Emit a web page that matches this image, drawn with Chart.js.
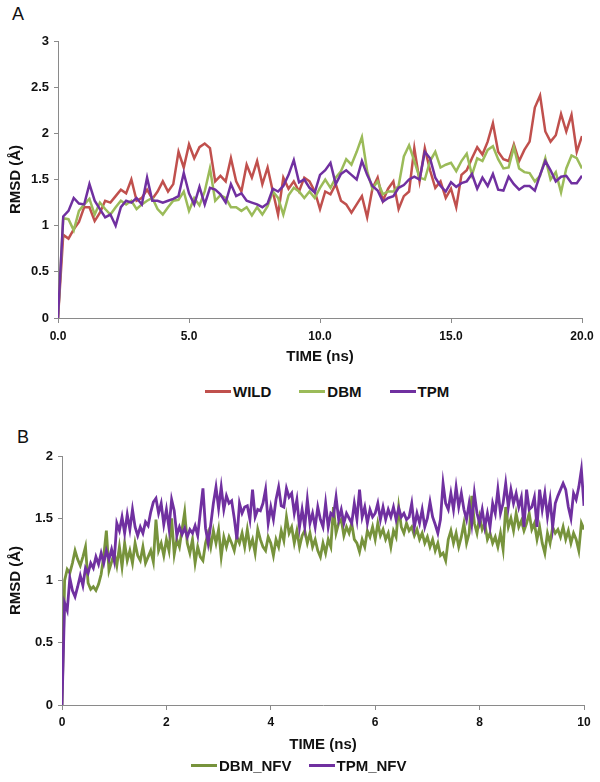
<!DOCTYPE html>
<html>
<head>
<meta charset="utf-8">
<script src="https://cdn.jsdelivr.net/npm/chart.js@4.4.1/dist/chart.umd.min.js"></script>
<style>
  body { margin: 0; background: #fff; font-family: "Liberation Sans", Arial, sans-serif; }
  #page { position: relative; width: 600px; height: 782px; overflow: hidden; }
  .tag { position: absolute; font-size: 18px; line-height: 18px; color: #111; }
  .legend { position: absolute; display: flex; align-items: center; height: 18px; font-size: 15px; font-weight: bold; color: #111; white-space: nowrap; }
  .legend .item { display: inline-flex; align-items: center; }
  .legend .sw { display: inline-block; width: 26px; height: 3px; margin-right: 2px; }
  canvas { position: absolute; left: 0; }
</style>
</head>
<body>
<div id="page">
  <div class="tag" style="left:12px;top:5px">A</div>
  <canvas id="chartA" width="600" height="375" style="top:0"></canvas>
  <div class="legend" id="legendA" style="left:205px;top:382px"></div>

  <div class="tag" style="left:17px;top:428px">B</div>
  <canvas id="chartB" width="600" height="340" style="top:420px"></canvas>
  <div class="legend" id="legendB" style="left:191px;top:756px"></div>
</div>

<script>
// ---- panel A: 0-20 ns, one frame every 0.2 ns ----
const STEP_A = 0.2;
const wildA = [
  0, 0.9, 0.86, 0.96, 1.04, 1.2, 1.2, 1.05, 1.14, 1.27,
  1.25, 1.32, 1.39, 1.35, 1.5, 1.27, 1.3, 1.39, 1.29, 1.37,
  1.48, 1.37, 1.45, 1.8, 1.63, 1.88, 1.73, 1.85, 1.89, 1.84,
  1.48, 1.54, 1.48, 1.73, 1.48, 1.37, 1.66, 1.52, 1.7, 1.45,
  1.63, 1.37, 1.12, 1.52, 1.4, 1.48, 1.37, 1.52, 1.48, 1.37,
  1.18, 1.37, 1.34, 1.45, 1.27, 1.23, 1.14, 1.23, 1.32, 1.09,
  1.4, 1.52, 1.27, 1.4, 1.48, 1.18, 1.32, 1.37, 1.84, 1.48,
  1.84, 1.6, 1.41, 1.48, 1.3, 1.4, 1.2, 1.55, 1.6, 1.73,
  1.85, 1.77, 1.91, 2.11, 1.8, 1.72, 1.7, 1.88, 1.7, 1.82,
  1.91, 2.28, 2.41, 2.02, 1.91, 1.98, 2.21, 2.02, 2.2, 1.8,
  1.97
];
const dbmA = [
  0, 1.08, 1.07, 0.95, 1.16, 1.23, 1.29, 1.12, 1.25, 1.18,
  1.12, 1.2, 1.27, 1.23, 1.27, 1.18, 1.23, 1.27, 1.3, 1.18,
  1.12, 1.2, 1.27, 1.28, 1.37, 1.16, 1.3, 1.22, 1.37, 1.62,
  1.27, 1.33, 1.3, 1.2, 1.2, 1.16, 1.2, 1.11, 1.2, 1.12,
  1.21, 1.37, 1.3, 1.12, 1.33, 1.41, 1.37, 1.3, 1.37, 1.3,
  1.41, 1.5, 1.41, 1.52, 1.59, 1.72, 1.66, 1.8, 1.96, 1.59,
  1.4, 1.48, 1.34, 1.37, 1.37, 1.43, 1.75, 1.87, 1.7, 1.52,
  1.5, 1.7, 1.8, 1.63, 1.66, 1.68, 1.59, 1.7, 1.78, 1.55,
  1.73, 1.7, 1.82, 1.86, 1.72, 1.62, 1.63, 1.85, 1.62, 1.58,
  1.57, 1.48, 1.54, 1.73, 1.5, 1.58, 1.36, 1.62, 1.76, 1.73,
  1.62
];
const tpmA = [
  0, 1.1, 1.16, 1.3, 1.24, 1.23, 1.45, 1.27, 1.18, 1.09,
  1.12, 1.0, 1.2, 1.27, 1.25, 1.3, 1.23, 1.52, 1.27, 1.27,
  1.25, 1.27, 1.29, 1.32, 1.57, 1.35, 1.23, 1.42, 1.23, 1.41,
  1.39, 1.34, 1.25, 1.45, 1.32, 1.35, 1.27, 1.25, 1.23, 1.2,
  1.24, 1.4, 1.37, 1.43, 1.55, 1.71, 1.47, 1.5, 1.41, 1.36,
  1.55, 1.6, 1.68, 1.45, 1.56, 1.6, 1.55, 1.5, 1.7, 1.55,
  1.43, 1.38, 1.26, 1.3, 1.32, 1.41, 1.44, 1.5, 1.53, 1.5,
  1.8, 1.73, 1.52, 1.43, 1.37, 1.47, 1.42, 1.46, 1.48, 1.56,
  1.4, 1.52, 1.43, 1.56, 1.39, 1.38, 1.53, 1.45, 1.39, 1.43,
  1.43, 1.38, 1.55, 1.7, 1.6, 1.48, 1.53, 1.54, 1.46, 1.46,
  1.54
];

// ---- panel B: 0-10 ns, one frame every 0.05 ns ----
const STEP_B = 0.05;
const dbmNfvB = [
  0, 1.0, 1.09, 1.06, 1.14, 1.24, 1.17, 1.12, 1.19, 1.27, 0.98, 0.93, 0.95, 0.92, 0.97, 1.05, 1.2, 1.4, 1.08, 1.15,
  1.22, 1.12, 1.27, 1.11, 1.3, 1.16, 1.24, 1.14, 1.3, 1.2, 1.16, 1.27, 1.14, 1.19, 1.24, 1.15, 1.49, 1.24, 1.3, 1.2,
  1.33, 1.24, 1.5, 1.21, 1.33, 1.27, 1.41, 1.55, 1.3, 1.22, 1.33, 1.14, 1.27, 1.19, 1.16, 1.3, 1.38, 1.27, 1.4, 1.3,
  1.41, 1.19, 1.35, 1.27, 1.35, 1.3, 1.24, 1.35, 1.3, 1.38, 1.27, 1.41, 1.27, 1.33, 1.22, 1.41, 1.33, 1.27, 1.24, 1.35,
  1.3, 1.2, 1.33, 1.27, 1.4, 1.32, 1.51, 1.38, 1.43, 1.3, 1.4, 1.27, 1.36, 1.4, 1.3, 1.38, 1.27, 1.33, 1.24, 1.19,
  1.3, 1.22, 1.33, 1.27, 1.59, 1.38, 1.46, 1.49, 1.36, 1.43, 1.38, 1.46, 1.33, 1.3, 1.23, 1.33, 1.27, 1.4, 1.35, 1.43,
  1.33, 1.46, 1.36, 1.41, 1.33, 1.38, 1.27, 1.4, 1.35, 1.59, 1.43, 1.38, 1.46, 1.4, 1.43, 1.36, 1.41, 1.33, 1.38, 1.3,
  1.35, 1.27, 1.33, 1.24, 1.3, 1.2, 1.22, 1.16, 1.33, 1.4, 1.3, 1.38, 1.27, 1.35, 1.46, 1.3, 1.38, 1.68, 1.46, 1.38,
  1.51, 1.41, 1.46, 1.33, 1.38, 1.3, 1.35, 1.27, 1.38, 1.25, 1.59, 1.43, 1.5, 1.4, 1.54, 1.43, 1.48, 1.4, 1.46, 1.54,
  1.41, 1.46, 1.33, 1.43, 1.3, 1.22, 1.38, 1.3, 1.43, 1.38, 1.41, 1.35, 1.43, 1.33, 1.4, 1.3, 1.38, 1.33, 1.24, 1.46,
  1.41
];
const tpmNfvB = [
  0, 0.82, 0.76, 1.02, 0.92, 0.87, 0.95, 1.04, 0.96, 1.1, 1.06, 1.14, 1.1, 1.19, 1.13, 1.22, 1.14, 1.24, 1.17, 1.25,
  1.16, 1.46, 1.4, 1.51, 1.38, 1.53, 1.41, 1.57, 1.43, 1.36, 1.43, 1.38, 1.47, 1.44, 1.55, 1.63, 1.66, 1.54, 1.62, 1.45,
  1.57, 1.42, 1.65, 1.56, 1.36, 1.43, 1.37, 1.42, 1.35, 1.41, 1.38, 1.44, 1.36, 1.55, 1.74, 1.42, 1.3, 1.45, 1.62, 1.75,
  1.58, 1.75, 1.57, 1.68, 1.62, 1.64, 1.5, 1.33, 1.62, 1.54, 1.59, 1.6, 1.49, 1.73, 1.51, 1.57, 1.56, 1.62, 1.73, 1.46,
  1.59, 1.49, 1.65, 1.75, 1.6, 1.59, 1.74, 1.67, 1.7, 1.54, 1.65, 1.43, 1.57, 1.43, 1.65, 1.46, 1.54, 1.43, 1.59, 1.49,
  1.43, 1.62, 1.43, 1.54, 1.52, 1.67, 1.49, 1.57, 1.46, 1.54, 1.5, 1.46, 1.62, 1.49, 1.73, 1.51, 1.59, 1.46, 1.57, 1.51,
  1.54, 1.62, 1.49, 1.59, 1.49, 1.57, 1.51, 1.59, 1.49, 1.58, 1.51, 1.54, 1.49, 1.51, 1.62, 1.43, 1.54, 1.46, 1.57, 1.43,
  1.5, 1.63, 1.51, 1.45, 1.38, 1.49, 1.78, 1.62, 1.57, 1.7, 1.57, 1.75, 1.59, 1.7, 1.57, 1.49, 1.62, 1.46, 1.7, 1.54,
  1.46, 1.57, 1.43, 1.54, 1.43, 1.62, 1.54, 1.73, 1.54, 1.62, 1.78, 1.59, 1.73, 1.62, 1.7, 1.59, 1.67, 1.43, 1.73, 1.57,
  1.59, 1.67, 1.43, 1.73, 1.57, 1.7, 1.51, 1.65, 1.43, 1.62, 1.68, 1.73, 1.78, 1.73, 1.59, 1.5, 1.7, 1.65, 1.75, 1.89,
  1.6
];

const seriesA = [
  { label: 'WILD', values: wildA, color: '#C0504D' },
  { label: 'DBM',  values: dbmA,  color: '#9BBB59' },
  { label: 'TPM',  values: tpmA,  color: '#7030A0' }
];
const seriesB = [
  { label: 'DBM_NFV', values: dbmNfvB, color: '#77933C' },
  { label: 'TPM_NFV', values: tpmNfvB, color: '#7030A0' }
];

Chart.defaults.font.family = "'Liberation Sans', Arial, sans-serif";
Chart.defaults.color = '#111';

const AXIS_GREY = '#8a8a8a';

function renderLegend(id, series, gap) {
  document.getElementById(id).innerHTML = series.map((s, i) => `
    <span class="item" style="margin-left:${i ? gap : 0}px">
      <span class="sw" style="background:${s.color}"></span>${s.label}
    </span>`).join('');
}

function makeRmsdChart(id, series, cfg) {
  const n = series.length;
  new Chart(document.getElementById(id), {
    type: 'line',
    data: {
      datasets: series.map((s, i) => ({
        label: s.label,
        data: s.values.map((v, k) => ({ x: k * cfg.step, y: v })),
        borderColor: s.color,
        backgroundColor: s.color,
        borderWidth: cfg.lineWidth,
        pointRadius: 0,
        tension: 0,
        order: n - i   // last series drawn on top, like the original
      }))
    },
    options: {
      responsive: false,
      animation: false,
      layout: { padding: cfg.padding },
      plugins: { legend: { display: false }, tooltip: { enabled: false } },
      scales: {
        x: {
          type: 'linear', min: 0, max: cfg.xMax,
          afterFit: s => { s.height = cfg.xHeight; },
          grid: { drawOnChartArea: false, drawTicks: true, tickLength: 5, color: AXIS_GREY },
          border: { color: AXIS_GREY, width: 1 },
          ticks: { stepSize: cfg.xStep, padding: cfg.xTickPad, maxRotation: 0,
                   font: { size: 12, weight: 'bold' }, callback: cfg.xFmt },
          title: { display: true, text: 'TIME (ns)', padding: { top: 0, bottom: cfg.xTitlePad },
                   font: { size: 15, weight: 'bold' } }
        },
        y: {
          min: 0, max: cfg.yMax,
          afterFit: s => { s.width = cfg.yWidth; },
          grid: { drawOnChartArea: false, drawTicks: true, tickLength: 4, color: AXIS_GREY },
          border: { color: AXIS_GREY, width: 1 },
          ticks: { stepSize: 0.5, padding: 5, font: { size: 13, weight: 'bold' },
                   callback: v => String(Number(v.toFixed(1))) },
          title: { display: true, text: 'RMSD (Å)', padding: { top: 7, bottom: 0 },
                   font: { size: 15, weight: 'bold' } }
        }
      }
    }
  });
}

makeRmsdChart('chartA', seriesA, {
  step: STEP_A, xMax: 20, xStep: 5, yMax: 3, lineWidth: 2.5,
  xFmt: v => v.toFixed(1),
  padding: { top: 41, right: 18, bottom: 5, left: 0 },
  yWidth: 58, xHeight: 52, xTickPad: 6, xTitlePad: 4
});
makeRmsdChart('chartB', seriesB, {
  step: STEP_B, xMax: 10, xStep: 2, yMax: 2, lineWidth: 2.8,
  xFmt: v => v,
  padding: { top: 36, right: 16, bottom: 2, left: 0 },
  yWidth: 62, xHeight: 53, xTickPad: 5, xTitlePad: 4
});

renderLegend('legendA', seriesA, 28);
renderLegend('legendB', seriesB, 17);
</script>
</body>
</html>
